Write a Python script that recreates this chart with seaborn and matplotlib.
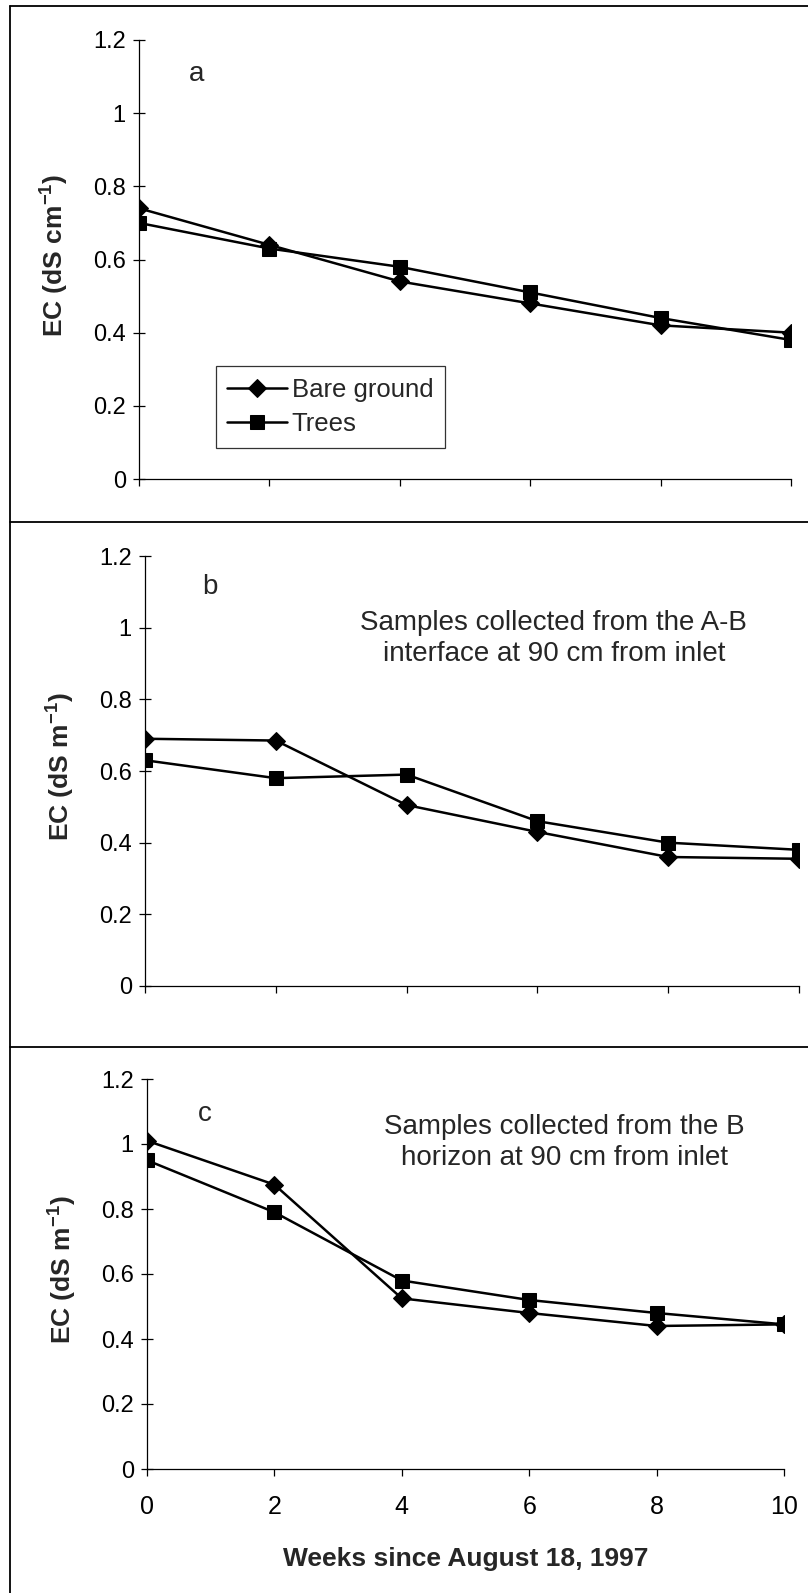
import matplotlib
matplotlib.use("Agg")
import matplotlib.pyplot as plt
from matplotlib import font_manager
from matplotlib.lines import Line2D
import seaborn as sns
import pandas as pd

# ---- data ----
weeks = [0, 2, 4, 6, 8, 10]
bare_a = [0.74, 0.64, 0.54, 0.48, 0.42, 0.40]
trees_a = [0.70, 0.63, 0.58, 0.51, 0.44, 0.38]
bare_b = [0.69, 0.685, 0.505, 0.43, 0.36, 0.355]
trees_b = [0.63, 0.58, 0.59, 0.46, 0.40, 0.38]
bare_c = [1.01, 0.875, 0.525, 0.48, 0.44, 0.445]
trees_c = [0.95, 0.79, 0.58, 0.52, 0.48, 0.445]
series_names = ["Bare ground", "Trees"]
panel_letters = ["a", "b", "c"]
ylabels = ["EC (dS cm$^{-1}$)", "EC (dS m$^{-1}$)", "EC (dS m$^{-1}$)"]
notes = [None,
         "Samples collected from the A-B\ninterface at 90 cm from inlet",
         "Samples collected from the B\nhorizon at 90 cm from inlet"]
yticks = [0, 0.2, 0.4, 0.6, 0.8, 1, 1.2]
ytick_labels = ["0", "0.2", "0.4", "0.6", "0.8", "1", "1.2"]
xticks = [0, 2, 4, 6, 8, 10]
xlabel = "Weeks since August 18, 1997"

sns.set_style("ticks")
avail = {f.name for f in font_manager.fontManager.ttflist}
narrow = "Liberation Sans Narrow" if "Liberation Sans Narrow" in avail else "Liberation Sans"
plt.rcParams["font.family"] = [narrow, "DejaVu Sans"]
plt.rcParams["mathtext.fontset"] = "custom"
plt.rcParams["mathtext.rm"] = "Liberation Sans:bold"
plt.rcParams["mathtext.default"] = "regular"

fig = plt.figure(figsize=(8.08, 15.93), dpi=100)
W, H = 808, 1593

def frac(l, r, top, bot):
    return [l / W, 1 - bot / H, (r - l) / W, (bot - top) / H]

rects = [frac(139, 791, 40, 479), frac(145, 799, 556, 986), frac(147, 784, 1079, 1469)]
data = [(bare_a, trees_a), (bare_b, trees_b), (bare_c, trees_c)]
letter_pos = [(0.89, 1.107), (0.99, 1.113), (0.91, 1.092)]
note_pos = [None, (6.25, 0.971), (6.55, 1.005)]

for i in range(3):
    ax = fig.add_axes(rects[i])
    bare, trees = data[i]
    df = pd.DataFrame({"Weeks": weeks * 2,
                       "EC": bare + trees,
                       "Treatment": [series_names[0]] * 6 + [series_names[1]] * 6})
    sns.lineplot(data=df[df.Treatment == series_names[0]], x="Weeks", y="EC",
                 marker="D", markersize=9.5, color="black", lw=1.8,
                 markeredgecolor="black", label=series_names[0], ax=ax)
    sns.lineplot(data=df[df.Treatment == series_names[1]], x="Weeks", y="EC",
                 marker="s", markersize=9.5, color="black", lw=1.8,
                 markeredgecolor="black", label=series_names[1], ax=ax)
    ax.set_xlim(0, 10)
    ax.set_ylim(0, 1.2)
    ax.set_yticks(yticks)
    ax.set_yticklabels(ytick_labels)
    ax.set_xticks(xticks)
    for s in ["top", "right"]:
        ax.spines[s].set_visible(False)
    for s in ["left", "bottom"]:
        ax.spines[s].set_linewidth(0.9)
        ax.spines[s].set_color("black")
    ax.tick_params(axis="y", direction="inout", length=9, width=0.9,
                   labelsize=17, pad=5, colors="black")
    ax.tick_params(axis="x", direction="out", length=5, width=0.9,
                   labelsize=18, pad=14, colors="black")
    ax.set_ylabel(ylabels[i], fontsize=19, fontweight="bold",
                  family=["Liberation Sans", "DejaVu Sans"], labelpad=16)
    ax.yaxis.label.set_y(0.51)
    if i < 2:
        ax.set_xticklabels([])
        ax.set_xlabel("")
    else:
        ax.set_xlabel(xlabel, fontsize=19, fontweight="bold", labelpad=20)
    ax.text(*letter_pos[i], panel_letters[i], fontsize=20, ha="center", va="center")
    if notes[i]:
        ax.text(*note_pos[i], notes[i], fontsize=20, ha="center", va="center",
                linespacing=1.25)
    if i == 0:
        leg = ax.legend(loc="upper left", bbox_to_anchor=(0.118, 0.257),
                        frameon=True, fancybox=False, edgecolor="black",
                        fontsize=18.5, handlelength=2.3, handletextpad=0.2,
                        borderpad=0.45, labelspacing=0.4, borderaxespad=0)
        leg.get_frame().set_linewidth(0.9)
    else:
        ax.get_legend().remove()

# panel frame lines
def fline(x0, y0, x1, y1):
    fig.add_artist(Line2D([x0 / W, x1 / W], [1 - y0 / H, 1 - y1 / H],
                          color="black", lw=1.3, transform=fig.transFigure))

fline(10, 6, 808, 6)
fline(10, 6, 10, 1593)
fline(10, 522, 808, 522)
fline(10, 1047, 808, 1047)

fig.savefig("out.png", dpi=100)
